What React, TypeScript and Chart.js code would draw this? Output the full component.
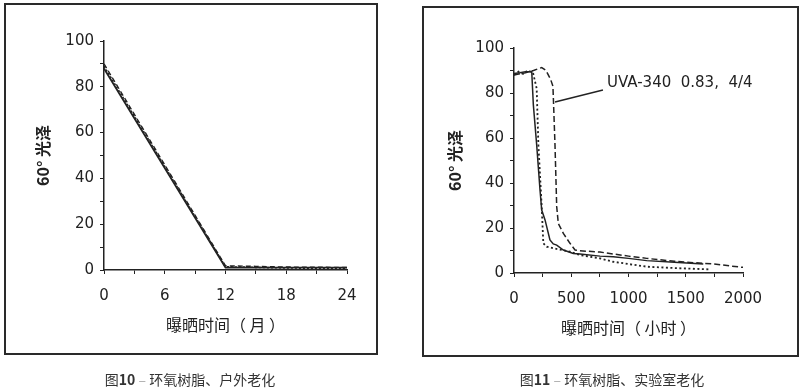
import React, { useEffect, useRef } from 'react';
import { Chart, registerables } from 'chart.js';

Chart.register(...registerables);

// ---------- Figure 10: outdoor ageing (months) ----------
const outdoorSolidMonths = [0, 12, 18, 24];
const outdoorSolidGloss = [88, 1, 1, 1];
const outdoorDashedMonths = [0, 12, 15, 18, 24];
const outdoorDashedGloss = [90, 1.8, 1.6, 1.3, 1.1];
const outdoorDottedMonths = [0, 12, 18, 24];
const outdoorDottedGloss = [89, 1.4, 0.9, 0.6];
const monthLabels = [0, 6, 12, 18, 24];

// ---------- Figure 11: lab ageing (hours) ----------
const labSolidHours = [0, 50, 100, 155, 169, 198, 227, 242, 271, 314, 343, 373, 431, 518, 576, 751, 867, 1000, 1159, 1400, 1653];
const labSolidGloss = [88.7, 89, 89.5, 89.5, 74.7, 57, 37, 28, 23.6, 14.7, 12.9, 12.4, 10.2, 8.7, 8.4, 7.5, 7.2, 6.5, 5.5, 4.8, 4.0];
const labDottedHours = [0, 40, 80, 120, 166, 198, 213, 242, 256, 285, 343, 489, 576, 751, 867, 1000, 1159, 1400, 1712];
const labDottedGloss = [88, 89.5, 88.5, 90, 89, 82, 57, 29.5, 13.2, 11.7, 11, 9.5, 8, 6.5, 5, 4, 2.8, 2.2, 1.6];
const labDashedHours = [0, 100, 170, 242, 280, 320, 340, 345, 358, 373, 387, 431, 489, 533, 576, 751, 1000, 1159, 1400, 1653, 1741, 2000];
const labDashedGloss = [88, 89, 90, 91.3, 90, 86, 83, 76, 57, 29.5, 22, 17.6, 13.2, 10.2, 9.9, 9.3, 7.5, 6.5, 5.2, 4.3, 4.0, 2.5];
const hourLabels = [0, 500, 1000, 1500, 2000];

const uvaLabel = 'UVA-340  0.83,  4/4';
const uvaLeaderFrom = [777, 81.3];
const uvaLeaderTo = [358, 76];
const uvaTextAt = [812, 84.4];

const TICK_FONT = { family: '"DejaVu Sans", "Liberation Sans", sans-serif', size: 15 };
const CJK_FONT = '"Noto Sans CJK SC", "DejaVu Sans", sans-serif';
const INK = '#222';

const pts = (xs: number[], ys: number[]) => xs.map((x, i) => ({ x, y: ys[i] }));

const lineSet = (data: any[], dash: number[], width: number) => ({
  data,
  borderColor: INK,
  borderWidth: width,
  borderDash: dash,
  pointRadius: 0,
  fill: false,
  tension: 0,
});

const uvaPlugin = {
  id: 'uvaLabel',
  afterDatasetsDraw(chart: any) {
    const { ctx, scales } = chart;
    const x = scales.x;
    const y = scales.y;
    ctx.save();
    ctx.strokeStyle = INK;
    ctx.lineWidth = 1.5;
    ctx.beginPath();
    ctx.moveTo(x.getPixelForValue(uvaLeaderFrom[0]), y.getPixelForValue(uvaLeaderFrom[1]));
    ctx.lineTo(x.getPixelForValue(uvaLeaderTo[0]), y.getPixelForValue(uvaLeaderTo[1]));
    ctx.stroke();
    ctx.fillStyle = INK;
    ctx.font = '15px "DejaVu Sans", sans-serif';
    ctx.textBaseline = 'middle';
    ctx.textAlign = 'left';
    ctx.fillText(uvaLabel, x.getPixelForValue(uvaTextAt[0]), y.getPixelForValue(uvaTextAt[1]));
    ctx.restore();
  },
};

type PanelProps = {
  datasets: any[];
  xMax: number;
  xStep: number;
  xLabels: number[];
  xTitle: string;
  yAxisWidth: number;
  xAxisHeight: number;
  padTop: number;
  padRight: number;
  yTitlePad: number;
  xTitlePad: number;
  plugins?: any[];
};

function Panel(p: PanelProps) {
  const ref = useRef<HTMLCanvasElement | null>(null);
  useEffect(() => {
    if (!ref.current) return;
    const chart = new Chart(ref.current, {
      type: 'line',
      data: { datasets: p.datasets },
      options: {
        animation: false,
        responsive: false,
        maintainAspectRatio: false,
        layout: { padding: { top: p.padTop, right: p.padRight, left: 0, bottom: 0 } },
        plugins: { legend: { display: false }, tooltip: { enabled: false }, title: { display: false } },
        scales: {
          x: {
            type: 'linear',
            min: 0,
            max: p.xMax,
            afterFit: (s: any) => { s.height = p.xAxisHeight; },
            ticks: {
              stepSize: p.xStep,
              autoSkip: false,
              maxRotation: 0,
              padding: 13,
              color: INK,
              font: TICK_FONT,
              callback: (v: any) => (p.xLabels.includes(Number(v)) ? String(v) : ''),
            },
            grid: { drawOnChartArea: false, drawTicks: true, tickLength: 4, color: INK },
            border: { display: true, color: INK, width: 1.5 },
            title: {
              display: true,
              text: p.xTitle,
              color: INK,
              font: { family: CJK_FONT, size: 16 },
              padding: { top: 0, bottom: p.xTitlePad },
            },
          },
          y: {
            type: 'linear',
            min: 0,
            max: 100,
            afterFit: (s: any) => { s.width = p.yAxisWidth; },
            ticks: {
              stepSize: 10,
              autoSkip: false,
              padding: 6,
              color: INK,
              font: TICK_FONT,
              callback: (v: any) => (Number(v) % 20 === 0 ? String(v) : ''),
            },
            grid: { drawOnChartArea: false, drawTicks: true, tickLength: 4, color: INK },
            border: { display: true, color: INK, width: 1.5 },
            title: {
              display: true,
              text: '60° 光泽',
              color: INK,
              font: { family: CJK_FONT, size: 16, weight: 'bold' },
              padding: { top: p.yTitlePad, bottom: 0 },
            },
          },
        },
      },
      plugins: p.plugins || [],
    } as any);
    return () => chart.destroy();
  }, []);
  return <canvas ref={ref} width={400} height={360} style={{ display: 'block' }} />;
}

const frameStyle = (left: number, top: number, w: number, h: number): React.CSSProperties => ({
  position: 'absolute',
  left,
  top,
  width: w,
  height: h,
  border: '2px solid #2a2a2a',
  boxSizing: 'border-box',
  pointerEvents: 'none',
});

const captionStyle = (center: number): React.CSSProperties => ({
  position: 'absolute',
  left: center - 150,
  width: 300,
  top: 369,
  textAlign: 'center',
  fontFamily: CJK_FONT,
  fontSize: 14,
  color: '#333',
  lineHeight: '20px',
});

export default function App() {
  const outdoorSets = [
    lineSet(pts(outdoorSolidMonths, outdoorSolidGloss), [], 1.8),
    lineSet(pts(outdoorDashedMonths, outdoorDashedGloss), [5, 3], 1.4),
    lineSet(pts(outdoorDottedMonths, outdoorDottedGloss), [2, 2], 1.6),
  ];
  const labSets = [
    lineSet(pts(labSolidHours, labSolidGloss), [], 1.5),
    lineSet(pts(labDottedHours, labDottedGloss), [2, 2.5], 1.8),
    lineSet(pts(labDashedHours, labDashedGloss), [6, 3], 1.5),
  ];
  return (
    <div style={{ position: 'fixed', left: 0, top: 0, width: 800, height: 389, background: '#fff', overflow: 'hidden' }}>
      <div style={{ position: 'absolute', left: 0, top: 0 }}>
        <Panel
          datasets={outdoorSets}
          xMax={24}
          xStep={3}
          xLabels={monthLabels}
          xTitle="曝晒时间（ 月 ）"
          yAxisWidth={104}
          xAxisHeight={90}
          padTop={41}
          padRight={53}
          yTitlePad={33}
          xTitlePad={25}
        />
      </div>
      <div style={{ position: 'absolute', left: 400, top: 0 }}>
        <Panel
          datasets={labSets}
          xMax={2000}
          xStep={250}
          xLabels={hourLabels}
          xTitle="曝晒时间（ 小时 ）"
          yAxisWidth={114}
          xAxisHeight={87}
          padTop={48}
          padRight={57}
          yTitlePad={45}
          xTitlePad={22}
          plugins={[uvaPlugin]}
        />
      </div>
      <div style={frameStyle(4, 3, 374, 352)} />
      <div style={frameStyle(422, 6, 377, 351)} />
      <div style={captionStyle(190)}>
        图<b>10</b> <span style={{ color: '#aaa' }}>–</span> 环氧树脂、户外老化
      </div>
      <div style={captionStyle(612)}>
        图<b>11</b> <span style={{ color: '#aaa' }}>–</span> 环氧树脂、实验室老化
      </div>
    </div>
  );
}
